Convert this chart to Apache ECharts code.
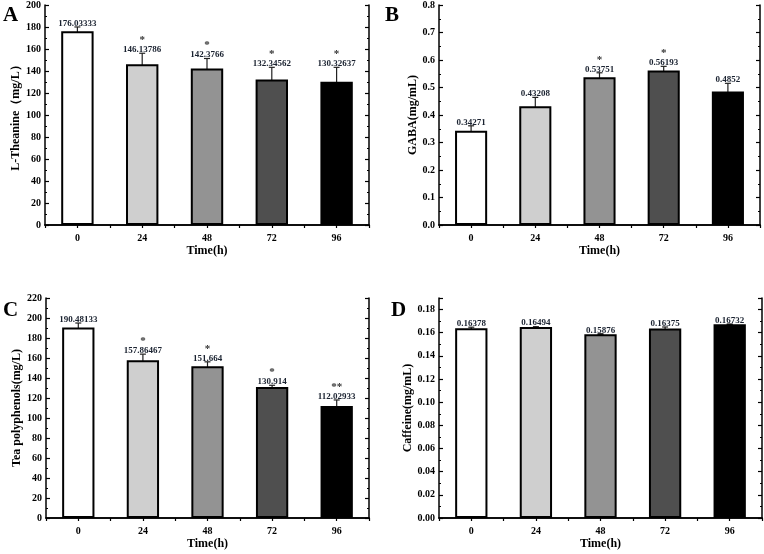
<!DOCTYPE html>
<html><head><meta charset="utf-8">
<script src="https://cdn.jsdelivr.net/npm/echarts@6/dist/echarts.min.js"></script>
<style>html,body{margin:0;padding:0;background:#fff}#c{width:764px;height:554px}</style>
</head><body><div id="c"></div>
<script>
const categories = ['0', '24', '48', '72', '96'];

const theanine = [176.03333, 146.13786, 142.3766, 132.34562, 130.32637];
const theanineErr = [4, 10, 9, 11, 13];
const theanineSig = ['', '*', '*', '*', '*'];

const gaba = [0.34271, 0.43208, 0.53751, 0.56193, 0.4852];
const gabaErr = [0.018, 0.032, 0.016, 0.015, 0.03];
const gabaSig = ['', '', '*', '*', ''];

const polyphenols = [190.48133, 157.86467, 151.664, 130.914, 112.02933];
const polyphenolsErr = [4.5, 6, 4.5, 1.8, 6];
const polyphenolsSig = ['', '*', '*', '*', '**'];

const caffeine = [0.16378, 0.16494, 0.15876, 0.16375, 0.16732];
const caffeineErr = [0.001, 0.0003, 0.0004, 0.0012, 0.0002];
const caffeineSig = ['', '', '', '', ''];

const barColors = ['#ffffff', '#cfcfcf', '#939393', '#4f4f4f', '#000000'];
const FONT = '"Liberation Serif", "Times New Roman", serif';

const panels = [
  {letter: 'A', name: 'L-Theanine（mg/L）', vals: theanine, err: theanineErr, sig: theanineSig,
   min: 0, max: 200, interval: 20, dec: 0,
   grid: {left: 45, top: 5, width: 324, height: 220}, lx: 3, ly: 5, nameGap: 19},
  {letter: 'B', name: 'GABA(mg/mL)', vals: gaba, err: gabaErr, sig: gabaSig,
   min: 0, max: 0.8, interval: 0.1, dec: 1,
   grid: {left: 439, top: 5, width: 321, height: 220}, lx: 385, ly: 5, nameGap: 16},
  {letter: 'C', name: 'Tea polyphenols(mg/L)', vals: polyphenols, err: polyphenolsErr, sig: polyphenolsSig,
   min: 0, max: 220, interval: 20, dec: 0,
   grid: {left: 46, top: 298, width: 323, height: 220}, lx: 3, ly: 300, nameGap: 17},
  {letter: 'D', name: 'Caffeine(mg/mL)', vals: caffeine, err: caffeineErr, sig: caffeineSig,
   min: 0, max: 0.19, interval: 0.02, dec: 2,
   grid: {left: 439, top: 298, width: 323, height: 220}, lx: 391, ly: 300, nameGap: 20}
];

const grid = [], xAxis = [], yAxis = [], series = [], title = [];
panels.forEach((p, k) => {
  grid.push(Object.assign({containLabel: false}, p.grid));
  title.push({text: p.letter, left: p.lx, top: p.ly, padding: 0,
    textStyle: {fontFamily: FONT, fontWeight: 'bold', fontSize: 21, color: '#000'}});
  xAxis.push({type: 'category', gridIndex: k, data: categories, position: 'bottom',
    name: 'Time(h)', nameLocation: 'middle', nameGap: 20,
    nameTextStyle: {fontFamily: FONT, fontWeight: 'bold', fontSize: 12, color: '#000'},
    axisLine: {lineStyle: {color: '#000', width: 1.5}},
    axisTick: {show: false},
    axisLabel: {fontFamily: FONT, fontWeight: 'bold', fontSize: 10, color: '#000', margin: 8}});
  xAxis.push({type: 'value', gridIndex: k, position: 'top', min: 0, max: 5, interval: 0.5,
    axisLine: {show: true, lineStyle: {color: '#000', width: 1.5}},
    axisTick: {show: true, inside: true, length: 3, lineStyle: {color: '#000', width: 1.2}},
    axisLabel: {show: false}, splitLine: {show: false}});
  const fmt = v => v.toFixed(p.dec);
  const maxOnTick = Math.abs(p.max / p.interval - Math.round(p.max / p.interval)) < 1e-6;
  yAxis.push({type: 'value', gridIndex: k, min: p.min, max: p.max, interval: p.interval,
    name: p.name, nameLocation: 'middle', nameGap: p.nameGap,
    nameTextStyle: {fontFamily: FONT, fontWeight: 'bold', fontSize: 12, color: '#000'},
    axisLine: {show: true, lineStyle: {color: '#000', width: 1.5}},
    axisTick: {show: true, inside: true, length: 4, lineStyle: {color: '#000', width: 1.2}},
    minorTick: {show: true, splitNumber: 2, length: 2, lineStyle: {color: '#000', width: 1}},
    axisLabel: {fontFamily: FONT, fontWeight: 'bold', fontSize: 10, color: '#000', margin: 4,
      formatter: fmt, showMaxLabel: maxOnTick},
    splitLine: {show: false}});
  yAxis.push({type: 'value', gridIndex: k, position: 'right', min: p.min, max: p.max, interval: p.interval,
    axisLine: {show: true, lineStyle: {color: '#000', width: 1.5}},
    axisTick: {show: true, inside: true, length: 4, lineStyle: {color: '#000', width: 1.2}},
    minorTick: {show: true, splitNumber: 2, length: 2, lineStyle: {color: '#000', width: 1}},
    axisLabel: {show: false}, splitLine: {show: false}});
  series.push({type: 'bar', xAxisIndex: 2 * k, yAxisIndex: 2 * k, barWidth: '50%',
    data: p.vals.map((v, i) => ({value: v, itemStyle: {color: barColors[i], borderColor: '#000', borderWidth: 2}})),
    silent: true, animation: false});
  series.push({type: 'custom', xAxisIndex: 2 * k, yAxisIndex: 2 * k, clip: false, animation: false, silent: true,
    data: p.vals.map((v, i) => [i, v, p.err[i]]),
    encode: {x: 0, y: 1},
    renderItem: function (params, api) {
      const i = api.value(0), v = api.value(1), e = api.value(2);
      const d = params.dataIndex;
      const hi = api.coord([i, v + e]);
      const lo = api.coord([i, v - e]);
      const cap = 3;
      const ls = {stroke: '#222', lineWidth: 1.2};
      const children = [
        {type: 'line', shape: {x1: hi[0], y1: hi[1], x2: lo[0], y2: lo[1]}, style: ls},
        {type: 'line', shape: {x1: hi[0] - cap, y1: hi[1], x2: hi[0] + cap, y2: hi[1]}, style: ls},
        {type: 'line', shape: {x1: lo[0] - cap, y1: lo[1], x2: lo[0] + cap, y2: lo[1]}, style: ls},
        {type: 'text', x: hi[0], y: hi[1] + 1, style: {text: String(p.vals[d]), fill: '#1a2230',
          font: 'bold 9px ' + FONT, textAlign: 'center', textVerticalAlign: 'bottom'}}
      ];
      if (p.sig[d]) {
        children.push({type: 'text', x: hi[0], y: hi[1] - 7.5, style: {text: p.sig[d], fill: '#333',
          font: 'bold 11px ' + FONT, textAlign: 'center', textVerticalAlign: 'bottom'}});
      }
      return {type: 'group', children: children};
    }});
});

const chart = echarts.init(document.getElementById('c'), null, {renderer: 'canvas'});
chart.setOption({backgroundColor: '#fff', animation: false, title, grid, xAxis, yAxis, series});
</script></body></html>
